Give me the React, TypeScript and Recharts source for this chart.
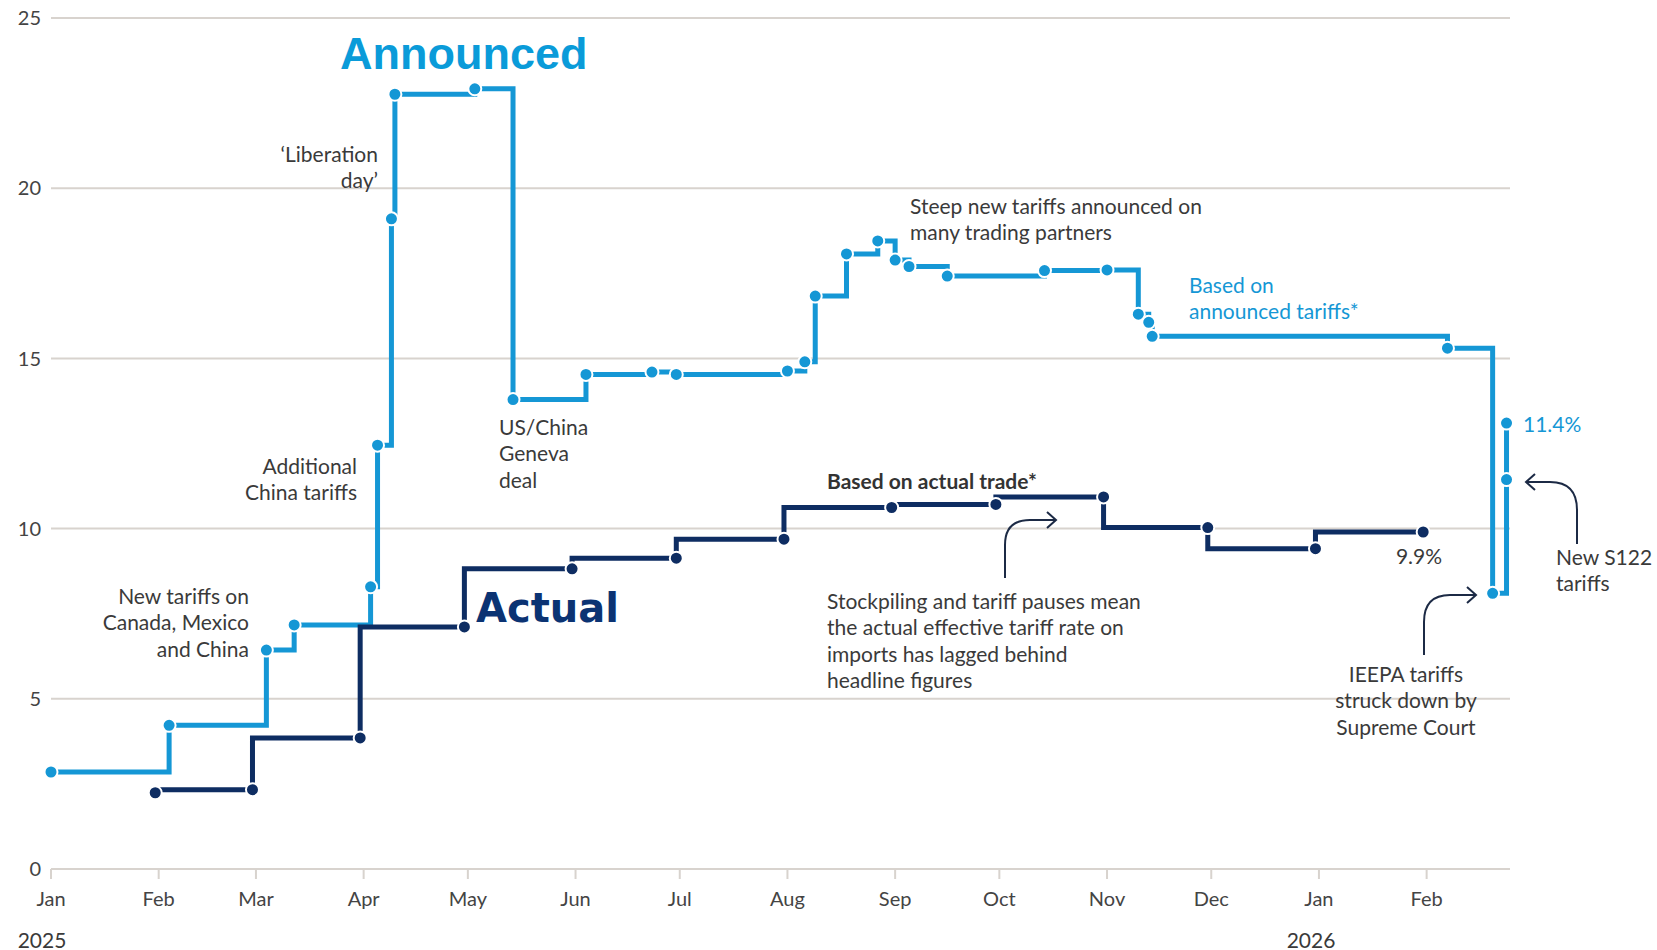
import { LineChart, Line, XAxis, YAxis, CartesianGrid } from "recharts";

// days counted from 1 Jan 2025
const MONTH_TICKS = [0, 31, 59, 90, 120, 151, 181, 212, 243, 273, 304, 334, 365, 396];
const MONTH_LABELS = ["Jan", "Feb", "Mar", "Apr", "May", "Jun", "Jul", "Aug", "Sep", "Oct", "Nov", "Dec", "Jan", "Feb"];
const Y_TICKS = [0, 5, 10, 15, 20, 25];

const ANNOUNCED_DAYS = [0, 34, 62, 70, 92, 94, 98, 99, 122, 133, 154, 173, 180, 212, 217, 220, 229, 238, 243, 247, 258, 286, 304, 313, 316, 317, 402, 415, 419, 419];
const ANNOUNCED_VALUES = [2.85, 4.22, 6.43, 7.17, 8.29, 12.45, 19.1, 22.76, 22.92, 13.79, 14.53, 14.6, 14.53, 14.63, 14.9, 16.83, 18.07, 18.45, 17.89, 17.7, 17.42, 17.58, 17.6, 16.3, 16.06, 15.65, 15.3, 8.1, 11.44, 13.1];

const ACTUAL_DAYS = [30, 58, 89, 119, 150, 180, 211, 242, 272, 303, 333, 364, 395];
const ACTUAL_VALUES = [2.24, 2.33, 3.85, 7.11, 8.82, 9.13, 9.69, 10.62, 10.71, 10.93, 10.03, 9.41, 9.9];

const announced = ANNOUNCED_DAYS.map((day, i) => ({ day, v: ANNOUNCED_VALUES[i] }));
const actual = ACTUAL_DAYS.map((day, i) => ({ day, v: ACTUAL_VALUES[i] }));

const LIGHT = "#1597d5";
const NAVY = "#0e2d62";
const GRID = "#d8d3ce";
const TEXT = "#3a3a3a";
const FONT = "Lato, 'Noto Sans', sans-serif";
const LH = 26.5;

function Note({ x, y, lines, anchor = "start", color = TEXT, weight = 400 }: {
  x: number; y: number; lines: string[]; anchor?: "start" | "middle" | "end"; color?: string; weight?: number;
}) {
  return (
    <text x={x} y={y} textAnchor={anchor} fill={color} fontSize={21} fontWeight={weight} fontFamily={FONT}>
      {lines.map((l, i) => (
        <tspan key={i} x={x} y={y + i * LH} dominantBaseline="central">{l}</tspan>
      ))}
    </text>
  );
}

function Arrow({ d, head }: { d: string; head: string }) {
  return (
    <g fill="none" stroke="#1c2a45" strokeWidth={2}>
      <path d={d} />
      <polyline points={head} />
    </g>
  );
}

export default function App() {
  return (
    <div style={{ position: "absolute", left: 0, top: 0, width: 1657, height: 950, background: "#fff" }}>
      <LineChart width={1657} height={950} margin={{ top: 18, right: 147, bottom: 41, left: 6 }}>
        <CartesianGrid vertical={false} stroke={GRID} strokeWidth={2} />
        <XAxis
          type="number" dataKey="day" domain={[0, 420]} allowDataOverflow
          ticks={MONTH_TICKS} interval={0} height={40}
          tickFormatter={(d) => MONTH_LABELS[MONTH_TICKS.indexOf(d)] ?? ""}
          tick={{ fill: "#444", fontSize: 20, fontFamily: FONT }}
          axisLine={{ stroke: GRID, strokeWidth: 2 }}
          tickLine={{ stroke: GRID, strokeWidth: 2 }}
          tickSize={10} tickMargin={13}
        />
        <YAxis
          type="number" domain={[0, 25]} ticks={Y_TICKS} width={45}
          tick={{ fill: "#444", fontSize: 20, fontFamily: FONT }}
          axisLine={false} tickLine={false} tickSize={0} tickMargin={10}
        />
        <Line
          data={announced} dataKey="v" type="stepAfter" stroke={LIGHT} strokeWidth={5}
          dot={{ r: 6.5, fill: LIGHT, stroke: "#fff", strokeWidth: 2, clipDot: false }}
          isAnimationActive={false}
        />
        <Line
          data={actual} dataKey="v" type="stepBefore" stroke={NAVY} strokeWidth={5}
          dot={{ r: 6.5, fill: NAVY, stroke: "#fff", strokeWidth: 2, clipDot: false }}
          isAnimationActive={false}
        />
      </LineChart>

      <svg width={1657} height={950} style={{ position: "absolute", left: 0, top: 0, pointerEvents: "none" }}>
        <text x={340} y={69} fill="#0a9bd9" fontSize={45} fontWeight={700} fontFamily="'Liberation Sans', Arial, sans-serif">Announced</text>
        <text x={476} y={622} fill="#0b3373" fontSize={40} fontWeight={700} fontFamily="'DejaVu Sans', sans-serif">Actual</text>

        <Note x={378} y={153} anchor="end" lines={["\u2018Liberation", "day\u2019"]} />
        <Note x={357} y={465} anchor="end" lines={["Additional", "China tariffs"]} />
        <Note x={249} y={595} anchor="end" lines={["New tariffs on", "Canada, Mexico", "and China"]} />
        <Note x={499} y={426} lines={["US/China", "Geneva", "deal"]} />
        <Note x={910} y={205} lines={["Steep new tariffs announced on", "many trading partners"]} />
        <Note x={1189} y={284} color={LIGHT} lines={["Based on", "announced tariffs*"]} />
        <Note x={827} y={480} weight={700} color="#333" lines={["Based on actual trade*"]} />
        <Note x={827} y={600} lines={["Stockpiling and tariff pauses mean", "the actual effective tariff rate on", "imports has lagged behind", "headline figures"]} />
        <Note x={1419} y={555} anchor="middle" lines={["9.9%"]} />
        <Note x={1523} y={423} color={LIGHT} lines={["11.4%"]} />
        <Note x={1556} y={556} lines={["New S122", "tariffs"]} />
        <Note x={1406} y={673} anchor="middle" lines={["IEEPA tariffs", "struck down by", "Supreme Court"]} />
        <Note x={42} y={939} anchor="middle" lines={["2025"]} />
        <Note x={1311} y={939} anchor="middle" lines={["2026"]} />

        <Arrow d="M1005 578 L1005 545 Q1005 520 1030 520 L1055 520" head="1047,512 1056,520 1047,528" />
        <Arrow d="M1577 544 L1577 510 Q1577 482 1550 482 L1526 482" head="1535,474 1526,482 1535,490" />
        <Arrow d="M1424 655 L1424 622 Q1424 595 1450 595 L1476 595" head="1467,587 1476,595 1467,603" />
      </svg>
    </div>
  );
}
